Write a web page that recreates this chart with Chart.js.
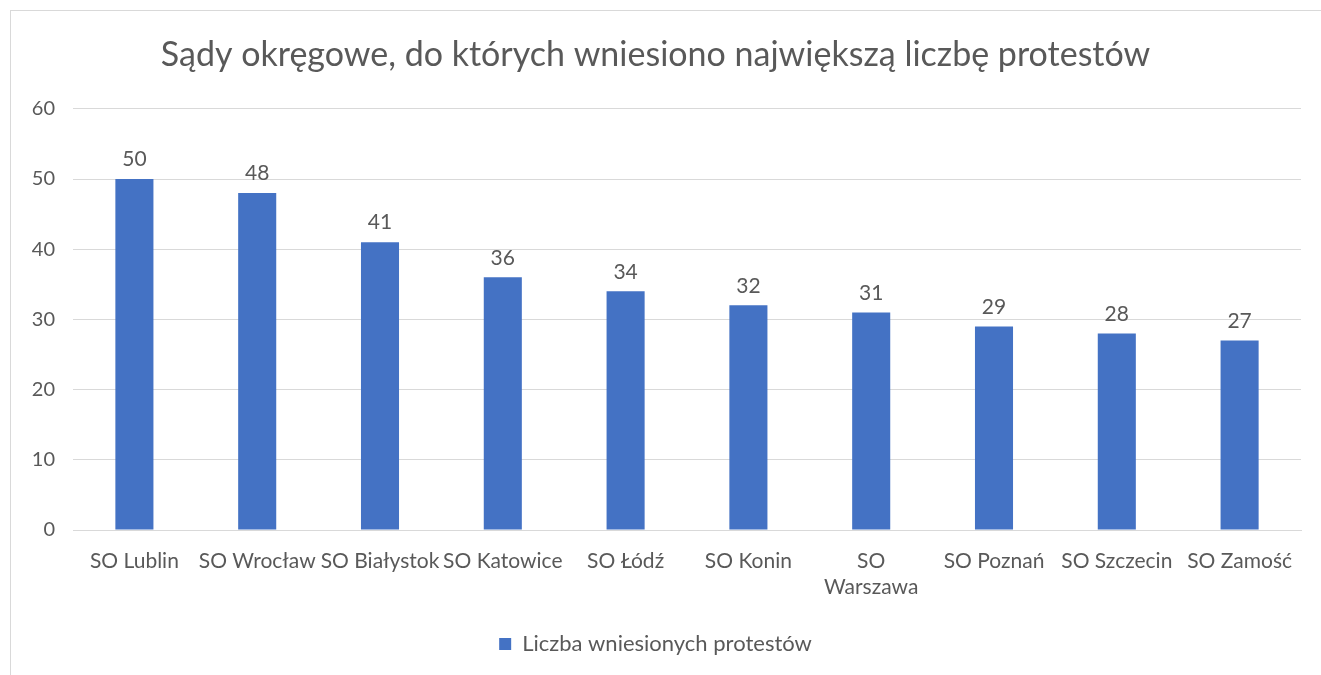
<!DOCTYPE html>
<html lang="pl">
<head>
<meta charset="utf-8">
<title>Sądy okręgowe</title>
<script src="https://cdn.jsdelivr.net/npm/chart.js@4"></script>
<style>
  html, body { margin: 0; padding: 0; background: #fff; overflow: hidden; }
  #wrap { position: relative; width: 1321px; height: 675px; }
  #frame { position: absolute; left: 10px; top: 10px; width: 1330px; height: 700px; border: 1px solid #d9d9d9; box-sizing: border-box; }
  canvas { position: absolute; left: 0; top: 0; }
</style>
</head>
<body>
<div id="wrap">
  <div id="frame"></div>
  <canvas id="chart" width="1321" height="675"></canvas>
</div>
<script>
// data
const courts = ["SO Lublin", "SO Wrocław", "SO Białystok", "SO Katowice", "SO Łódź", "SO Konin", ["SO", "Warszawa"], "SO Poznań", "SO Szczecin", "SO Zamość"];
const protests = [50, 48, 41, 36, 34, 32, 31, 29, 28, 27];
const yTicks = [0, 10, 20, 30, 40, 50, 60];

const textColor = "#595959";
const fontFamily = "Lato, 'Open Sans', sans-serif";

// value labels above bars
const barValues = {
  id: "barValues",
  afterDatasetsDraw(chart) {
    const ctx = chart.ctx;
    ctx.save();
    ctx.fillStyle = textColor;
    ctx.font = "21px " + fontFamily;
    ctx.textAlign = "center";
    ctx.textBaseline = "bottom";
    chart.getDatasetMeta(0).data.forEach((bar, i) => {
      ctx.fillText(String(protests[i]), bar.x, bar.y - 9);
    });
    ctx.restore();
  },
};

new Chart(document.getElementById("chart"), {
  type: "bar",
  data: {
    labels: courts,
    datasets: [
      {
        label: "Liczba wniesionych protestów",
        data: protests,
        backgroundColor: "#4472C4",
        barPercentage: 0.31,
        categoryPercentage: 1,
      },
    ],
  },
  options: {
    responsive: false,
    animation: false,
    layout: { padding: { top: 10, left: 10, right: 20, bottom: 10 } },
    plugins: {
      title: {
        display: true,
        text: "Sądy okręgowe, do których wniesiono największą liczbę protestów",
        color: textColor,
        font: { family: fontFamily, size: 34, weight: "normal", lineHeight: 1.2 },
        padding: { top: 25, bottom: 33 },
      },
      legend: {
        position: "bottom",
        labels: {
          color: textColor,
          font: { family: fontFamily, size: 22 },
          boxWidth: 12,
          boxHeight: 12,
          padding: 10,
        },
      },
      tooltip: { enabled: false },
    },
    scales: {
      x: {
        grid: { display: false, drawTicks: false },
        border: { color: "#d9d9d9" },
        ticks: {
          color: textColor,
          font: { family: fontFamily, size: 21, lineHeight: 1.2 },
          padding: 19,
          maxRotation: 0,
          autoSkip: false,
        },
        afterFit(scale) { scale.height = 93; },
      },
      y: {
        min: 0,
        max: 60,
        afterBuildTicks(scale) { scale.ticks = yTicks.map((v) => ({ value: v })); },
        grid: { color: "#d9d9d9", drawTicks: false },
        border: { display: false },
        ticks: {
          color: textColor,
          font: { family: fontFamily, size: 20 },
          padding: 18,
        },
        afterFit(scale) { scale.width = 63; },
      },
    },
  },
  plugins: [barValues],
});
</script>
</body>
</html>
